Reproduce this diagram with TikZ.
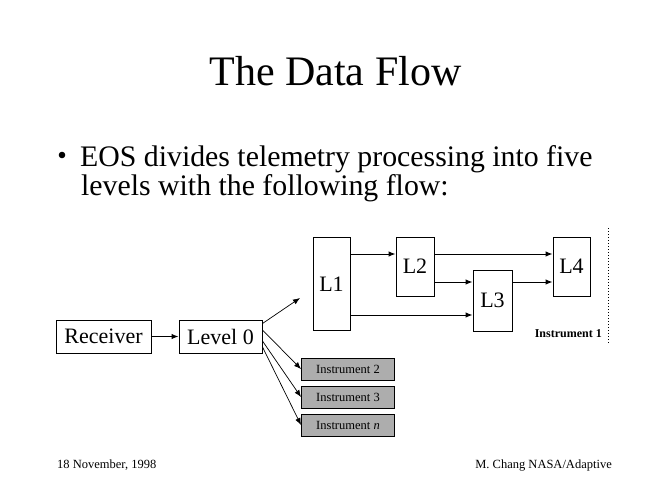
\documentclass[tikz,border=0pt]{standalone}
\usepackage{fontspec}
\setmainfont{Liberation Serif}
\usetikzlibrary{arrows.meta,calc}

\begin{document}
\begin{tikzpicture}[x=1pt,y=-1pt,
  box/.style={draw,line width=1pt,inner sep=0pt,font=\fontsize{22}{22}\selectfont},
  inst/.style={draw,line width=1pt,fill=black!32,inner sep=0pt,minimum width=93pt,minimum height=22pt,
    font=\fontsize{12.5}{12.5}\selectfont},
  flow/.style={line width=1pt,-{Latex[length=7pt,width=5.5pt]}},
  fan/.style={line width=0.7pt,-{Latex[length=7pt,width=5.5pt]}}]
  \useasboundingbox (0,0) rectangle (668,496);

  % heading and bullet text
  \node[anchor=base,font=\fontsize{42}{42}\selectfont] (title) at (335.5,85) {The Data Flow};
  \fill (62,155) circle (3.3pt);
  \node[anchor=base west,inner sep=0pt,font=\fontsize{29.8}{29.8}\selectfont] (line1) at (80,166)
    {EOS divides telemetry processing into five};
  \node[anchor=base west,inner sep=0pt,font=\fontsize{29.8}{29.8}\selectfont] (line2) at (81,195)
    {levels with the following flow:};

  % processing level boxes
  \node[box,minimum width=37pt,minimum height=93pt] (L1) at (331.5,284) {L1};
  \node[box,minimum width=38pt,minimum height=59pt] (L2) at (415,266.5) {L2};
  \node[box,minimum width=39pt,minimum height=61pt] (L3) at (492.5,300.5) {L3};
  \node[box,minimum width=37pt,minimum height=59pt] (L4) at (571.5,266.5) {L4};

  \node[box,minimum width=95pt,minimum height=33pt] (rx) at (103.5,336.5) {Receiver};
  \node[box,minimum width=83pt,minimum height=33pt] (lv0) at (220.5,336.5) {Level 0};

  \node[inst] (i2) at (348,369) {Instrument 2};
  \node[inst] (i3) at (348,397) {Instrument 3};
  \node[inst] (in) at (348,425) {Instrument \textit{n}};

  \node[anchor=base east,inner sep=0pt,font=\bfseries\fontsize{12}{12}\selectfont] (inst1) at (602,337) {Instrument 1};
  \coordinate (dtop) at (608,228);
  \coordinate (dbot) at (608,343);
  \draw[line width=1pt,dotted] (dtop) -- (dbot);

  % row heights of the level-to-level arrows
  \coordinate (ya) at (0,254);
  \coordinate (yb) at (0,282);
  \coordinate (yc) at (0,315);

  \draw[flow] (L1.east |- ya) -- (L2.west |- ya);
  \draw[flow] (L1.east |- yc) -- (L3.west |- yc);
  \draw[flow] (L2.east |- ya) -- (L4.west |- ya);
  \draw[flow] (L2.east |- yb) -- (L3.west |- yb);
  \draw[flow] (L3.east |- yb) -- (L4.west |- yb);

  \draw[flow] (rx) -- (lv0);
  \coordinate (tip) at (300,298);
  \draw[fan] ($(lv0.north east)+(0,4)$) -- (tip);
  \draw[fan] ($(lv0.east)+(0,-6.5)$) -- (i2.west);
  \draw[fan] ($(lv0.east)+(0,4.5)$) -- (i3.west);
  \draw[fan] ($(lv0.east)+(0,10.5)$) -- (in.west);

  % footer
  \node[anchor=base west,inner sep=0pt,font=\fontsize{12.5}{12.5}\selectfont] (date) at (57,468) {18 November, 1998};
  \node[anchor=base east,inner sep=0pt,font=\fontsize{12.5}{12.5}\selectfont] (author) at (612,468) {M. Chang NASA/Adaptive};
\end{tikzpicture}
\end{document}
